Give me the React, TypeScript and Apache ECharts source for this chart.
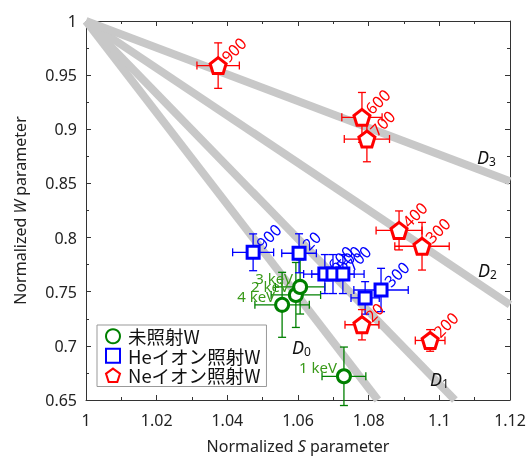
import React, { useEffect, useRef } from "react";
import * as echarts from "echarts";

// Reference lines D0..D3 from (1,1) to their end points
const dLineEnds: number[][] = [
  [1.0826, 0.65],
  [1.1044, 0.65],
  [1.12, 0.738],
  [1.12, 0.852],
];

// Ne-ion irradiated W
const neX = [1.0374, 1.0781, 1.0795, 1.0886, 1.0951, 1.0974, 1.0781];
const neY = [0.9588, 0.911, 0.891, 0.8066, 0.792, 0.705, 0.7195];
const neXErr = [0.006, 0.0057, 0.0064, 0.0065, 0.0077, 0.0042, 0.0048];
const neYErr = [0.021, 0.023, 0.021, 0.018, 0.022, 0.01, 0.014];
const neLabels = ["900", "600", "700", "400", "300", "200", "20"];

// He-ion irradiated W
const heX = [1.0473, 1.0603, 1.0676, 1.0699, 1.0727, 1.079, 1.0835];
const heY = [0.7864, 0.7855, 0.7663, 0.7663, 0.7663, 0.7443, 0.7516];
const heXErr = [0.0058, 0.0049, 0.006, 0.006, 0.006, 0.004, 0.0077];
const heYErr = [0.017, 0.018, 0.018, 0.018, 0.018, 0.015, 0.02];
const heLabels = ["900", "20", "600", "500", "700", "", "300"];

// Unirradiated W
const unX = [1.073, 1.0555, 1.0594, 1.0606];
const unY = [0.6719, 0.7379, 0.747, 0.7544];
const unXErr = [0.0062, 0.0077, 0.007, 0.007];
const unYErr = [0.027, 0.03, 0.03, 0.025];
const unLabels = ["1 keV", "4 keV", "2 keV", "3 keV"];

const xTicks = { min: 1, max: 1.12, interval: 0.02 };
const yTicks = { min: 0.65, max: 1, interval: 0.05 };

const RED = "#ff0000";
const BLUE = "#0000ff";
const GREEN = "#008000";
const GREEN_TEXT = "#3a9a1a";
const FONT = "'Noto Sans', 'Noto Sans CJK JP', sans-serif";

const PENTAGON =
  "path://M50,2 L97.5,36.5 L79.4,92.4 L20.6,92.4 L2.5,36.5 Z";

function errSeries(
  xs: number[], ys: number[], ex: number[], ey: number[], labels: string[],
  color: string, labelColor: string, labelMode: "rot" | "left"
) {
  return {
    type: "custom",
    z: 3,
    silent: true,
    data: xs.map((x, i) => [x, ys[i], ex[i], ey[i]]),
    encode: { x: 0, y: 1 },
    renderItem: (params: any, api: any) => {
      const x = api.value(0), y = api.value(1), dx = api.value(2), dy = api.value(3);
      const c = api.coord([x, y]);
      const l = api.coord([x - dx, y]);
      const r = api.coord([x + dx, y]);
      const t = api.coord([x, y + dy]);
      const b = api.coord([x, y - dy]);
      const cap = 4;
      const st = { stroke: color, lineWidth: 1.3 };
      const children: any[] = [
        { type: "line", shape: { x1: l[0], y1: l[1], x2: r[0], y2: r[1] }, style: st },
        { type: "line", shape: { x1: t[0], y1: t[1], x2: b[0], y2: b[1] }, style: st },
        { type: "line", shape: { x1: l[0], y1: l[1] - cap, x2: l[0], y2: l[1] + cap }, style: st },
        { type: "line", shape: { x1: r[0], y1: r[1] - cap, x2: r[0], y2: r[1] + cap }, style: st },
        { type: "line", shape: { x1: t[0] - cap, y1: t[1], x2: t[0] + cap, y2: t[1] }, style: st },
        { type: "line", shape: { x1: b[0] - cap, y1: b[1], x2: b[0] + cap, y2: b[1] }, style: st },
      ];
      const txt = labels[params.dataIndex];
      if (txt) {
        if (labelMode === "rot") {
          children.push({
            type: "text",
            x: c[0] + 6,
            y: c[1] - 6,
            rotation: Math.PI / 4,
            z2: 10,
            style: {
              text: txt, fill: labelColor, font: `16px ${FONT}`,
              align: "left", verticalAlign: "middle",
            },
          });
        } else {
          children.push({
            type: "text",
            x: c[0] - 7,
            y: c[1] - 9,
            z2: 10,
            style: {
              text: txt, fill: labelColor, font: `15px ${FONT}`,
              align: "right", verticalAlign: "middle",
            },
          });
        }
      }
      return { type: "group", children };
    },
  };
}

export default function App() {
  const ref = useRef<HTMLDivElement>(null);
  useEffect(() => {
    if (!ref.current) return;
    const chart = echarts.init(ref.current, null, { renderer: "svg" });
    const axisLine = { show: true, lineStyle: { color: "#333", width: 1 } };
    const axisTick = { show: true, inside: true, length: 5, lineStyle: { color: "#333" } };
    const minorTick = { show: true, splitNumber: 2, length: 3, lineStyle: { color: "#333" } };
    const lineSeries = dLineEnds.map((e) => ({
      type: "line",
      z: 1,
      silent: true,
      symbol: "none",
      data: [[1, 1], e],
      lineStyle: { color: "#c8c8c8", width: 8 },
      clip: true,
    }));
    const dRich = {
      i: { fontStyle: "italic", fontSize: 18, fontFamily: FONT, fill: "#111" },
      s: { fontSize: 12, fontFamily: FONT, fill: "#111", padding: [10, 0, 0, 0] },
    };
    const option: any = {
      animation: false,
      grid: { left: 86, top: 21, right: 19, bottom: 56 },
      xAxis: [
        {
          type: "value", ...xTicks, position: "bottom",
          axisLine, axisTick, minorTick, splitLine: { show: false },
          axisLabel: {
            fontSize: 16, color: "#222", fontFamily: FONT, margin: 12,
            formatter: (v: number) => String(parseFloat(v.toFixed(2))),
          },
          name: "Normalized {i|S} parameter",
          nameLocation: "middle", nameGap: 38,
          nameTextStyle: {
            fontSize: 16, color: "#222", fontFamily: FONT,
            rich: { i: { fontStyle: "italic", fontSize: 16, color: "#222", fontFamily: FONT } },
          },
        },
        {
          type: "value", ...xTicks, position: "top",
          axisLine, axisTick, minorTick, splitLine: { show: false },
          axisLabel: { show: false },
        },
      ],
      yAxis: [
        {
          type: "value", ...yTicks, position: "left",
          axisLine, axisTick, minorTick, splitLine: { show: false },
          axisLabel: {
            fontSize: 16, color: "#222", fontFamily: FONT, margin: 9,
            formatter: (v: number) => String(parseFloat(v.toFixed(2))),
          },
          name: "Normalized {i|W} parameter",
          nameLocation: "middle", nameGap: 58,
          nameTextStyle: {
            fontSize: 16, color: "#222", fontFamily: FONT,
            rich: { i: { fontStyle: "italic", fontSize: 16, color: "#222", fontFamily: FONT } },
          },
        },
        {
          type: "value", ...yTicks, position: "right",
          axisLine, axisTick, minorTick, splitLine: { show: false },
          axisLabel: { show: false },
        },
      ],
      legend: {
        orient: "vertical",
        left: 97, top: 325,
        backgroundColor: "#fff",
        borderColor: "#999", borderWidth: 1,
        padding: [2, 6, 2, 8],
        itemGap: 1,
        itemWidth: 14, itemHeight: 14,
        textStyle: { fontSize: 18.5, color: "#111", fontFamily: "'Noto Sans CJK JP', sans-serif", padding: [0, 0, 0, 3] },
        data: ["未照射W", "Heイオン照射W", "Neイオン照射W"],
      },
      series: [
        ...lineSeries,
        errSeries(unX, unY, unXErr, unYErr, unLabels, GREEN, GREEN_TEXT, "left"),
        errSeries(heX, heY, heXErr, heYErr, heLabels, BLUE, BLUE, "rot"),
        errSeries(neX, neY, neXErr, neYErr, neLabels, RED, RED, "rot"),
        {
          name: "未照射W", type: "scatter", z: 4,
          symbol: "circle", symbolSize: 13,
          data: unX.map((x, i) => [x, unY[i]]),
          itemStyle: { color: "#fff", borderColor: GREEN, borderWidth: 3, opacity: 1 },
        },
        {
          name: "Heイオン照射W", type: "scatter", z: 4,
          symbol: "rect", symbolSize: 12,
          data: heX.map((x, i) => [x, heY[i]]),
          itemStyle: { color: "#fff", borderColor: BLUE, borderWidth: 3, opacity: 1 },
        },
        {
          name: "Neイオン照射W", type: "scatter", z: 4,
          symbol: PENTAGON, symbolSize: 16,
          data: neX.map((x, i) => [x, neY[i]]),
          itemStyle: { color: "#fff", borderColor: RED, borderWidth: 3, opacity: 1 },
        },
      ],
      graphic: [
        { type: "text", left: 477, top: 148, z: 20, style: { text: "{i|D}{s|3}", rich: dRich } },
        { type: "text", left: 478, top: 261, z: 20, style: { text: "{i|D}{s|2}", rich: dRich } },
        { type: "text", left: 430, top: 370, z: 20, style: { text: "{i|D}{s|1}", rich: dRich } },
        { type: "text", left: 292, top: 338, z: 20, style: { text: "{i|D}{s|0}", rich: dRich } },
      ],
    };
    chart.setOption(option);
    return () => chart.dispose();
  }, []);
  return (
    <div
      ref={ref}
      style={{ position: "fixed", left: 0, top: 0, width: 529, height: 459 }}
    />
  );
}
